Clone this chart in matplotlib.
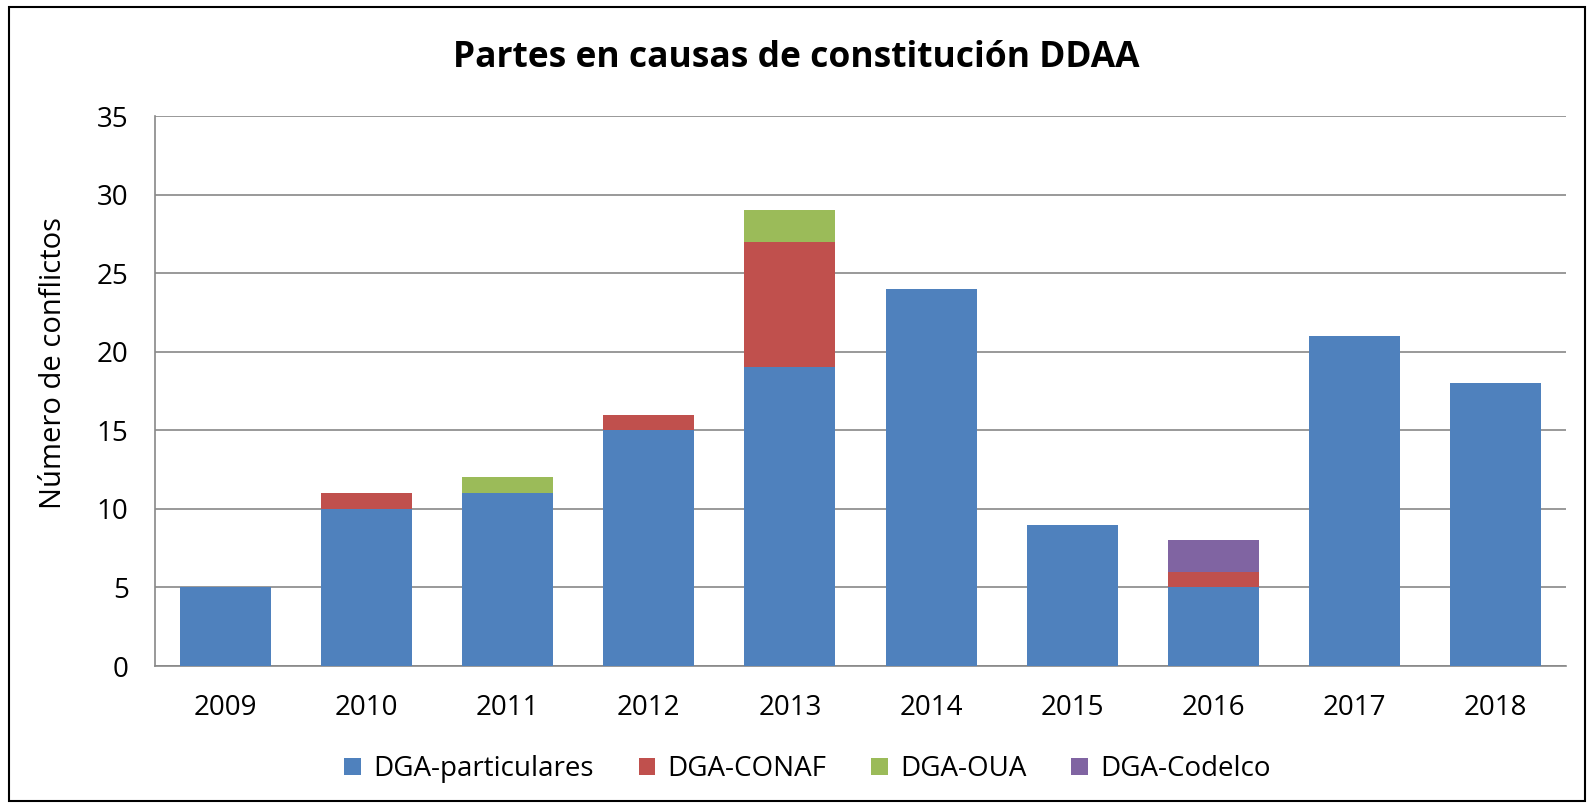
import matplotlib
matplotlib.use('Agg')
from matplotlib import pyplot as plt
from matplotlib.patches import Rectangle
import numpy as np

plt.rcParams['font.family'] = ['Open Sans', 'DejaVu Sans']

years = ['2009', '2010', '2011', '2012', '2013', '2014', '2015', '2016', '2017', '2018']
dga_particulares = [5, 10, 11, 15, 19, 24, 9, 5, 21, 18]
dga_conaf = [0, 1, 0, 1, 8, 0, 0, 1, 0, 0]
dga_oua = [0, 0, 1, 0, 2, 0, 0, 0, 0, 0]
dga_codelco = [0, 0, 0, 0, 0, 0, 0, 2, 0, 0]

series = [
    ('DGA-particulares', dga_particulares, '#4F81BD'),
    ('DGA-CONAF', dga_conaf, '#C0504D'),
    ('DGA-OUA', dga_oua, '#9BBB59'),
    ('DGA-Codelco', dga_codelco, '#8064A2'),
]

fig = plt.figure(figsize=(15.93, 8.08), dpi=100)
ax = fig.add_axes([0.0973, 0.1757, 0.8857, 0.6807])

x = np.arange(len(years))
bottom = np.zeros(len(years))
for name, vals, col in series:
    vals = np.array(vals, dtype=float)
    ax.bar(x, vals, width=0.645, bottom=bottom, color=col, label=name, zorder=3)
    bottom += vals

ax.set_xlim(-0.5, len(years) - 0.5)
ax.set_ylim(0, 35)
ax.set_yticks(range(0, 36, 5))
ax.set_xticks(x)
ax.set_xticklabels(years)
ax.tick_params(axis='both', length=0, labelsize=20)
ax.tick_params(axis='x', pad=20)
ax.tick_params(axis='y', pad=19)
ax.yaxis.grid(True, color='#888888', linewidth=1.2, zorder=0)

for s in ['top', 'right']:
    ax.spines[s].set_visible(False)
for s in ['left', 'bottom']:
    ax.spines[s].set_color('#888888')
    ax.spines[s].set_linewidth(1.2)

fig.text(0.0333, 0.551, 'Número de conflictos', rotation=90, ha='center', va='center',
         fontsize=21)
fig.text(0.5, 0.928, 'Partes en causas de constitución DDAA', ha='center', va='center',
         fontsize=25.5, fontweight='bold')

fig.legend(loc='center', bbox_to_anchor=(0.507, 0.048), ncol=4, frameon=False,
           fontsize=20, handlelength=0.6, handleheight=0.6, columnspacing=1.6,
           handletextpad=0.45)

fig.patches.append(Rectangle((9 / 1593, 1 - 801 / 808), 1576 / 1593, 794 / 808,
                             transform=fig.transFigure, fill=False,
                             edgecolor='black', linewidth=1.5))

fig.savefig('out.png', dpi=100)
